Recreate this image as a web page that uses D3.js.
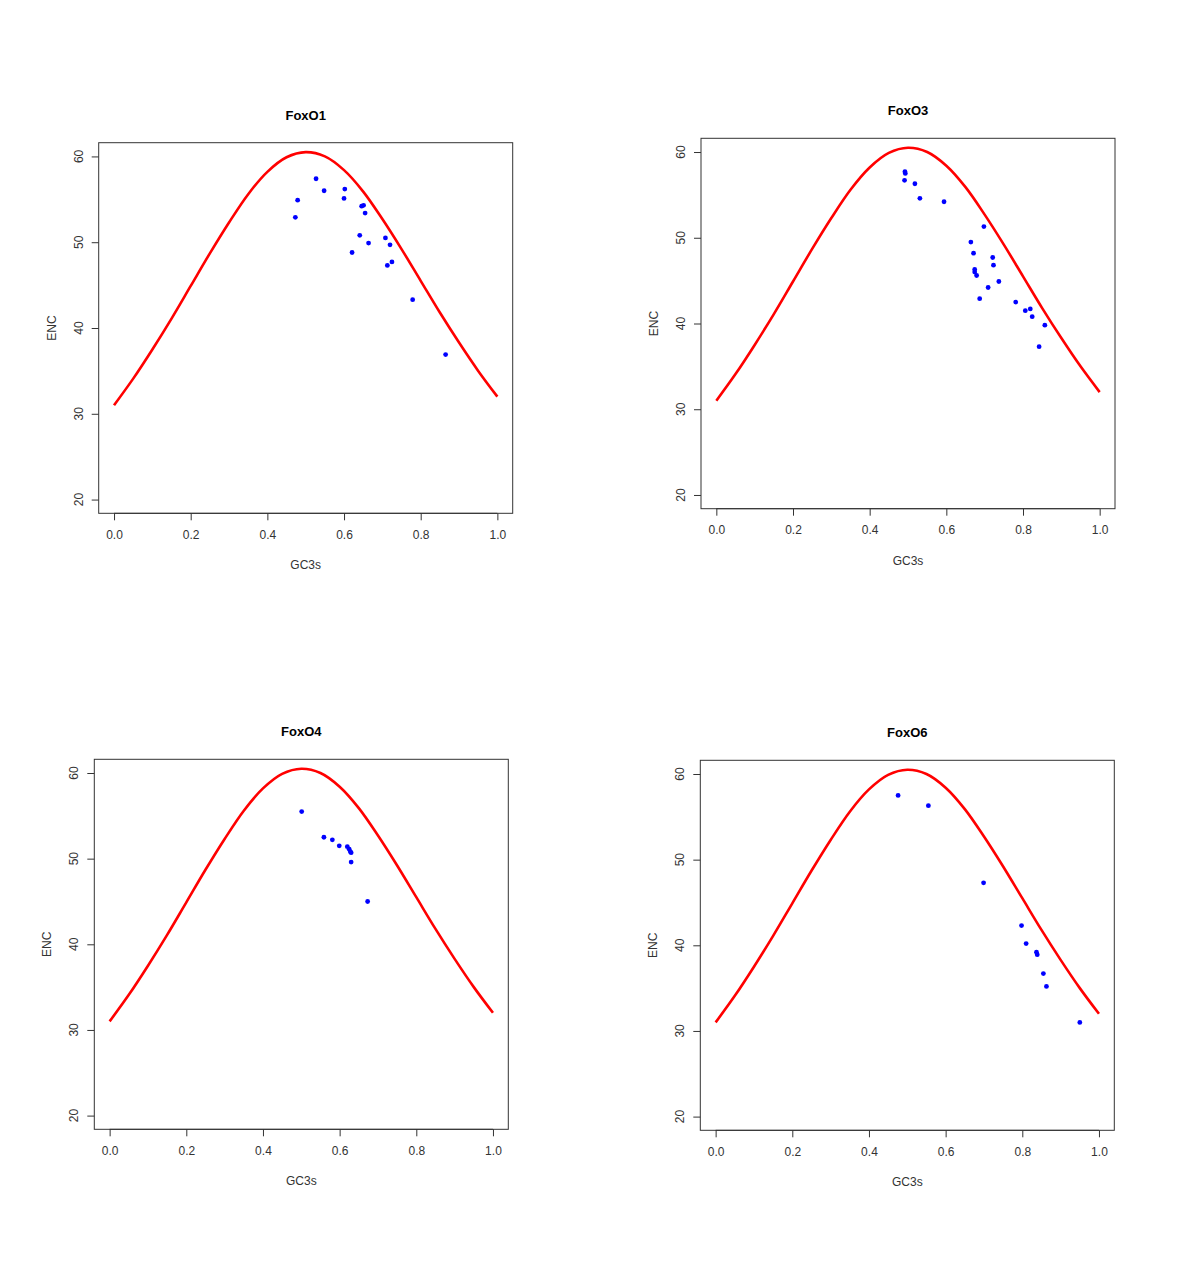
<!DOCTYPE html>
<html>
<head>
<meta charset="utf-8">
<script src="https://cdn.jsdelivr.net/npm/d3@7"></script>
<style>
  body { margin: 0; background: #fff; }
  text { font-family: "Liberation Sans", Arial, sans-serif; }
</style>
</head>
<body>
<svg id="chart" width="1200" height="1269"></svg>
<script>
// ---- data ----
const panelTitles = ["FoxO1", "FoxO3", "FoxO4", "FoxO6"];
const xTicks = [0.0, 0.2, 0.4, 0.6, 0.8, 1.0];
const yTicks = [20, 30, 40, 50, 60];

// expected-ENC curve
const curveGC3s = [0, 0.05, 0.1, 0.15, 0.2, 0.25, 0.3, 0.35, 0.4, 0.45, 0.5,
                   0.55, 0.6, 0.65, 0.7, 0.75, 0.8, 0.85, 0.9, 0.95, 1.0];
const curveENC  = [31.0, 34.1, 37.5, 41.1, 44.9, 48.7, 52.3, 55.6, 58.2, 59.9, 60.5,
                   60.0, 58.4, 55.9, 52.7, 49.2, 45.5, 41.8, 38.3, 35.0, 32.0];

const foxo1GC  = [0.479, 0.473, 0.527, 0.548, 0.602, 0.600, 0.646, 0.651, 0.655, 0.641, 0.664, 0.621, 0.708, 0.720, 0.725, 0.713, 0.779, 0.865];
const foxo1ENC = [54.9, 52.9, 57.4, 56.0, 56.2, 55.1, 54.2, 54.3, 53.4, 50.8, 49.9, 48.8, 50.5, 49.7, 47.7, 47.3, 43.3, 36.9];

const foxo3GC  = [0.492, 0.493, 0.491, 0.518, 0.531, 0.594, 0.698, 0.664, 0.671, 0.721, 0.723, 0.674, 0.674, 0.679, 0.737, 0.709, 0.687, 0.781, 0.806, 0.819, 0.824, 0.857, 0.842];
const foxo3ENC = [57.7, 57.5, 56.7, 56.3, 54.6, 54.2, 51.3, 49.5, 48.2, 47.7, 46.8, 46.3, 46.0, 45.6, 44.9, 44.2, 42.9, 42.5, 41.5, 41.7, 40.8, 39.8, 37.3];

const foxo4GC  = [0.501, 0.559, 0.581, 0.599, 0.620, 0.625, 0.628, 0.630, 0.630, 0.673];
const foxo4ENC = [55.5, 52.5, 52.2, 51.5, 51.4, 51.1, 50.8, 50.7, 49.6, 45.0];

const foxo6GC  = [0.476, 0.555, 0.699, 0.798, 0.810, 0.837, 0.839, 0.855, 0.863, 0.950];
const foxo6ENC = [57.5, 56.3, 47.3, 42.3, 40.2, 39.2, 38.9, 36.7, 35.2, 31.0];

const panelGC  = [foxo1GC, foxo3GC, foxo4GC, foxo6GC];
const panelENC = [foxo1ENC, foxo3ENC, foxo4ENC, foxo6ENC];

// ---- layout (plot boxes) ----
const boxes = [
  {left: 98.7,  top: 142.7, width: 414, height: 370.6},
  {left: 701,   top: 138.3, width: 414, height: 370.4},
  {left: 94.3,  top: 759.3, width: 414, height: 370.0},
  {left: 700.3, top: 760.3, width: 414, height: 370.0}
];

const svg = d3.select("#chart");
const curveData = curveGC3s.map((g, i) => ({g, e: curveENC[i]}));

boxes.forEach((b, p) => {
  const x = d3.scaleLinear().domain([-0.04, 1.04]).range([b.left, b.left + b.width]);
  const y = d3.scaleLinear().domain([18.4, 61.6]).range([b.top + b.height, b.top]);
  const g = svg.append("g");

  // x axis
  const xa = g.append("g")
    .attr("transform", `translate(0,${b.top + b.height})`)
    .call(d3.axisBottom(x).tickValues(xTicks).tickFormat(d3.format(".1f")).tickSize(7).tickPadding(10));
  xa.select(".domain").remove();
  xa.selectAll("line").attr("stroke", "#333");
  xa.selectAll("text").attr("font-size", 12).attr("fill", "#333");
  g.append("line")
    .attr("x1", x(0)).attr("x2", x(1))
    .attr("y1", b.top + b.height).attr("y2", b.top + b.height)
    .attr("stroke", "#333");

  // y axis
  const ya = g.append("g")
    .attr("transform", `translate(${b.left},0)`)
    .call(d3.axisLeft(y).tickValues(yTicks).tickSize(7).tickFormat(d3.format("d")));
  ya.select(".domain").remove();
  ya.selectAll("line").attr("stroke", "#333");
  ya.selectAll("text").remove();
  g.selectAll(".ytl").data(yTicks).enter().append("text")
    .attr("class", "ytl")
    .attr("transform", d => `translate(${b.left - 16},${y(d)}) rotate(-90)`)
    .attr("text-anchor", "middle")
    .attr("font-size", 12).attr("fill", "#333")
    .text(d => d);

  // box
  g.append("rect")
    .attr("x", b.left).attr("y", b.top)
    .attr("width", b.width).attr("height", b.height)
    .attr("fill", "none").attr("stroke", "#333").attr("stroke-width", 1);

  // curve
  const line = d3.line().x(d => x(d.g)).y(d => y(d.e)).curve(d3.curveCatmullRom);
  g.append("path").datum(curveData)
    .attr("d", line)
    .attr("fill", "none").attr("stroke", "#ff0000").attr("stroke-width", 2.6);

  // points
  const pts = panelGC[p].map((v, i) => ({g: v, e: panelENC[p][i]}));
  g.selectAll(".pt").data(pts).enter().append("circle")
    .attr("class", "pt")
    .attr("cx", d => x(d.g)).attr("cy", d => y(d.e))
    .attr("r", 2.4).attr("fill", "#0000ff");

  // titles
  g.append("text")
    .attr("x", b.left + b.width / 2).attr("y", b.top - 23)
    .attr("text-anchor", "middle").attr("font-size", 13).attr("font-weight", "bold")
    .text(panelTitles[p]);
  g.append("text")
    .attr("x", b.left + b.width / 2).attr("y", b.top + b.height + 56)
    .attr("text-anchor", "middle").attr("font-size", 12).attr("fill", "#333")
    .text("GC3s");
  g.append("text")
    .attr("transform", `translate(${b.left - 43},${b.top + b.height / 2}) rotate(-90)`)
    .attr("text-anchor", "middle").attr("font-size", 12).attr("fill", "#333")
    .text("ENC");
});
</script>
</body>
</html>
